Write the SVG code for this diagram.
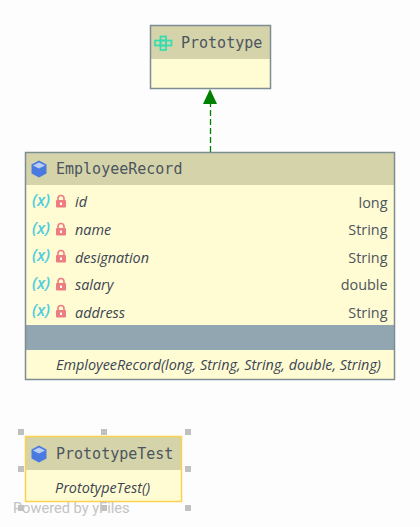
<svg xmlns="http://www.w3.org/2000/svg" width="420" height="527" viewBox="0 0 420 527">
<style>
.hdr{fill:#d5d3a9}
.body{fill:#fffbd2}
.box{fill:none;stroke:#7d8d92;stroke-width:1.500}
.title{font:15px "DejaVu Sans Mono",monospace;fill:#4b5560}
.it{font:italic 14.400px "Open Sans",sans-serif;fill:#3a4552}
.ty{font:14.400px "Open Sans",sans-serif;fill:#4b5560;text-anchor:end}
.x{font:italic 600 16px "Open Sans",sans-serif;fill:#4fcde0}
.h{fill:#c0c0c0}
</style>
<defs>
<g id="cube"><path d="M0-8.500 7.500-4.500V4.500L0 8.500-7.500 4.500V-4.500Z" fill="#4a7ae0"/><path d="M0-6.500 6-3.500 0-0.500-6-3.500Z" fill="#b9cdf5"/></g>
<g id="lock"><rect x="-5" y="-2" width="10" height="7.500" rx="1" fill="#ee7d80"/><path d="M-3-2V-3.500A3 3 0 0 1 3-3.500V-2" fill="none" stroke="#ee7d80" stroke-width="1.600"/><rect x="-1" y="0.500" width="2" height="2.500" fill="#fff"/></g>
</defs>
<rect width="420" height="527" fill="#fdfdfd"/>
<g id="connectors">
<path d="M210.500 152V103" fill="none" stroke="#008000" stroke-width="1.300" stroke-dasharray="6 3"/>
<path d="M210 89 203 104H217Z" fill="#008000"/>
</g>
<g id="Prototype">
<rect class="hdr" x="150" y="26" width="120" height="33"/>
<rect class="body" x="150" y="59" width="120" height="29"/>
<rect class="box" x="150.500" y="25.500" width="120" height="63"/>
<g fill="none" stroke="#35dcb0" stroke-width="1.700"><rect x="155" y="40.500" width="5.500" height="5"/><rect x="160.500" y="36.500" width="5.500" height="4"/><rect x="160.500" y="40.500" width="5.500" height="5"/><rect x="160.500" y="45.500" width="5.500" height="4.500"/><rect x="166" y="40.500" width="5.500" height="5"/></g>
<text class="title" x="181" y="48">Prototype</text>
</g>
<g id="EmployeeRecord">
<rect class="hdr" x="26" y="152" width="369" height="33"/>
<rect class="body" x="26" y="185" width="369" height="140"/>
<rect x="26" y="325" width="369" height="25" fill="#91a6b1"/>
<rect class="body" x="26" y="350" width="369" height="29"/>
<rect class="box" x="25.500" y="152.500" width="369" height="227"/>
<use href="#cube" x="39" y="169"/>
<text class="title" x="56" y="174">EmployeeRecord</text>
<text class="x" x="32" y="206">(x)</text><use href="#lock" x="61" y="202"/><text class="it" x="75" y="207">id</text><text class="ty" x="387.500" y="208">long</text>
<text class="x" x="32" y="234">(x)</text><use href="#lock" x="61" y="230"/><text class="it" x="75" y="235">name</text><text class="ty" x="387.500" y="235">String</text>
<text class="x" x="32" y="261">(x)</text><use href="#lock" x="61" y="257"/><text class="it" x="75" y="263">designation</text><text class="ty" x="387.500" y="263">String</text>
<text class="x" x="32" y="289">(x)</text><use href="#lock" x="61" y="285"/><text class="it" x="75" y="290">salary</text><text class="ty" x="387.500" y="290">double</text>
<text class="x" x="32" y="316">(x)</text><use href="#lock" x="61" y="312"/><text class="it" x="75" y="318">address</text><text class="ty" x="387.500" y="318">String</text>
<text class="it" x="56" y="370">EmployeeRecord(long, String, String, double, String)</text>
</g>
<g id="PrototypeTest">
<rect class="hdr" x="26" y="437" width="156" height="33"/>
<rect class="body" x="26" y="470" width="156" height="31"/>
<rect x="25.500" y="436.500" width="156" height="65" fill="none" stroke="#fcd14f" stroke-width="1.500"/>
<use href="#cube" x="39" y="454"/>
<text class="title" x="56" y="459">PrototypeTest</text>
<text class="it" x="55" y="493">PrototypeTest()</text>
<rect class="h" x="18" y="429" width="6" height="6"/><rect class="h" x="101" y="429" width="6" height="6"/><rect class="h" x="185" y="429" width="6" height="6"/>
<rect class="h" x="18" y="466" width="6" height="6"/><rect class="h" x="185" y="466" width="6" height="6"/>
<rect class="h" x="18" y="505" width="6" height="6"/><rect class="h" x="101" y="505" width="6" height="6"/><rect class="h" x="185" y="505" width="6" height="6"/>
</g>
<text x="13" y="513" font-family="Roboto,sans-serif" font-size="14.600" fill="#c4c4c4">Powered by yFiles</text>
</svg>
